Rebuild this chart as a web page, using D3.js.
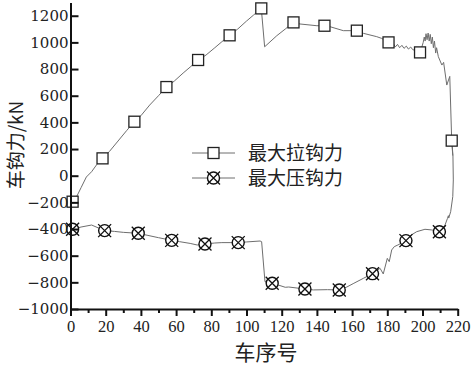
<!DOCTYPE html>
<html>
<head>
<meta charset="utf-8">
<script src="https://cdn.jsdelivr.net/npm/d3@7"></script>
<style>
  body { margin: 0; background: #fff; }
  svg { display: block; }
</style>
</head>
<body>
<script>
// max tension (拉钩力) line, [car no, kN]
const tensionLine = [
  [0, -195], [1.2, -195], [3, -170], [6, -90], [9, -10], [12, 30], [15, 85], [18.2, 130],
  [22, 180], [27, 260], [32, 340], [36.3, 405], [40, 450], [45, 530], [50, 600], [54.5, 665],
  [59, 710], [64, 770], [68, 815], [72.5, 868], [77, 905], [82, 960], [86, 1005], [90.4, 1053],
  [95, 1100], [100, 1160], [104, 1205], [108.4, 1255], [110.3, 967], [117.2, 1050], [122, 1100],
  [126.7, 1150], [130.4, 1138], [140, 1125], [144.3, 1125], [147.4, 1118], [155, 1088],
  [158.8, 1088], [162.7, 1088], [166.4, 1068], [174, 1043], [176.8, 1030], [180.7, 1000],
  [183.5, 990], [184.5, 965], [185.8, 985], [187, 960], [188.3, 978], [189.5, 955], [190.8, 972],
  [192, 950], [193.3, 965], [194.5, 945], [196, 940], [198.6, 925],
  [199.5, 960], [200.4, 1000], [201, 1040], [201.5, 1010], [202, 1065], [202.6, 1020],
  [203.2, 1070], [203.8, 1010], [204.4, 1060], [205, 990], [205.6, 1040], [206.2, 960],
  [206.8, 1010], [207.5, 920], [208, 960], [209, 893], [211, 830], [212, 850], [213.8, 680],
  [215.5, 745], [216.6, 263], [217.2, 150]
];
const tensionMarks = [
  [1.2, -195], [18.2, 130], [36.3, 405], [54.5, 665], [72.5, 868], [90.4, 1053], [108.4, 1255],
  [126.7, 1150], [144.3, 1125], [162.7, 1088], [180.7, 1000], [198.6, 925], [216.6, 263]
];

// max compression (压钩力) line
const compLine = [
  [0, -400], [1.2, -402], [6, -385], [12, -370], [19.4, -412], [25, -418], [30, -425],
  [38.5, -432], [44, -448], [50, -465], [57.5, -485], [62, -495], [68, -508], [72, -520],
  [76.4, -512], [82, -505], [86, -502], [95.3, -502], [100, -497], [107.7, -490], [108.6, -495],
  [110.5, -795], [114.6, -807], [118, -820], [122, -837], [124, -835], [133.2, -850], [138, -857],
  [146, -855], [152.7, -857], [157, -835], [161, -807], [166.4, -770], [171.6, -735],
  [175.9, -695], [177.7, -737], [180, -620], [181.1, -645], [182.5, -557], [184, -532],
  [186, -520], [190.6, -487], [193, -450], [196.7, -420], [201.4, -402], [205.2, -407],
  [209.6, -420], [212.8, -370], [214.2, -320], [214.7, -300], [214.9, -318], [216, -270],
  [217.2, -157], [217.5, -32], [217.3, 150], [216.8, 240]
];
const compMarks = [
  [1.2, -402], [19.4, -412], [38.5, -432], [57.5, -485], [76.4, -512], [95.3, -502],
  [114.6, -807], [133.2, -850], [152.7, -857], [171.6, -735], [190.6, -487], [209.6, -420]
];

const xTicks = d3.range(0, 221, 20);
const xMinor = d3.range(10, 220, 20);
const yTicks = d3.range(-1000, 1201, 200);
const legendNames = ["最大拉钩力", "最大压钩力"];

function main() {
  const width = 472, height = 365;
  const svg = d3.select("body").append("svg")
    .attr("width", width)
    .attr("height", height);

  const x = d3.scaleLinear().domain([0, 220]).range([70.5, 457.7]);
  const y = d3.scaleLinear().domain([-1000, 1300]).range([309, 2.4]);

  const cjk = "Noto Sans CJK SC";
  const fmt = d => String(d).replace("-", "\u2212");

  // lines
  const line = d3.line().x(d => x(d[0])).y(d => y(d[1]));
  svg.append("path").datum(tensionLine)
    .attr("fill", "none").attr("stroke", "#6e6e6e").attr("stroke-width", 1)
    .attr("d", line);
  svg.append("path").datum(compLine)
    .attr("fill", "none").attr("stroke", "#6e6e6e").attr("stroke-width", 1)
    .attr("d", line);

  function square(g, cx, cy) {
    g.append("rect")
      .attr("x", cx - 5.5).attr("y", cy - 5.5)
      .attr("width", 11).attr("height", 11)
      .attr("fill", "#fff").attr("stroke", "#222").attr("stroke-width", 1.3);
  }
  function crossCircle(g, cx, cy) {
    g.append("circle")
      .attr("cx", cx).attr("cy", cy).attr("r", 6)
      .attr("fill", "#fff").attr("stroke", "#111").attr("stroke-width", 1.4);
    g.append("path")
      .attr("d", `M${cx - 6.5},${cy - 6.5}L${cx + 6.5},${cy + 6.5}M${cx + 6.5},${cy - 6.5}L${cx - 6.5},${cy + 6.5}`)
      .attr("stroke", "#111").attr("stroke-width", 1.3);
  }

  const marks = svg.append("g");
  tensionMarks.forEach(d => square(marks, x(d[0]), y(d[1])));
  compMarks.forEach(d => crossCircle(marks, x(d[0]), y(d[1])));

  // axes
  const yAxis = svg.append("g")
    .attr("transform", `translate(${x(0)},0)`)
    .call(d3.axisLeft(y).tickValues(yTicks).tickFormat(fmt)
      .tickSizeInner(-8).tickSizeOuter(0).tickPadding(2))
    .attr("font-family", "DejaVu Serif").attr("font-size", 15);
  yAxis.selectAll("text").attr("fill", "#222");

  const xAxis = svg.append("g")
    .attr("transform", `translate(0,${y(-1000)})`)
    .call(d3.axisBottom(x).tickValues(xTicks).tickFormat(fmt)
      .tickSizeInner(7).tickSizeOuter(0).tickPadding(4))
    .attr("font-family", "Liberation Serif").attr("font-size", 16.5);
  xAxis.selectAll("text").attr("fill", "#222");
  svg.append("g")
    .attr("transform", `translate(0,${y(-1000)})`)
    .call(d3.axisBottom(x).tickValues(xMinor).tickSizeInner(4).tickSizeOuter(0).tickFormat(""))
    .select(".domain").remove();

  svg.selectAll(".domain").attr("stroke", "#111").attr("stroke-width", 2);
  svg.selectAll(".tick line").attr("stroke", "#111").attr("stroke-width", 2);

  // axis titles
  svg.append("text")
    .attr("transform", "translate(23,145) rotate(-90)")
    .attr("text-anchor", "middle")
    .attr("font-family", cjk).attr("font-size", 19).attr("fill", "#222")
    .text("车钩力/kN");
  svg.append("text")
    .attr("x", 266).attr("y", 360)
    .attr("text-anchor", "middle")
    .attr("font-family", cjk).attr("font-size", 21).attr("fill", "#222")
    .text("车序号");

  // legend
  const legend = svg.append("g");
  legendNames.forEach((name, i) => {
    const ly = 153 + i * 25;
    legend.append("line")
      .attr("x1", 192).attr("x2", 235).attr("y1", ly).attr("y2", ly)
      .attr("stroke", "#6e6e6e").attr("stroke-width", 1);
    if (i === 0) square(legend, 213.5, ly); else crossCircle(legend, 213.5, ly);
    legend.append("text")
      .attr("x", 248).attr("y", ly + 7)
      .attr("font-family", cjk).attr("font-size", 19).attr("fill", "#222")
      .text(name);
  });
}
main();
</script>
</body>
</html>
